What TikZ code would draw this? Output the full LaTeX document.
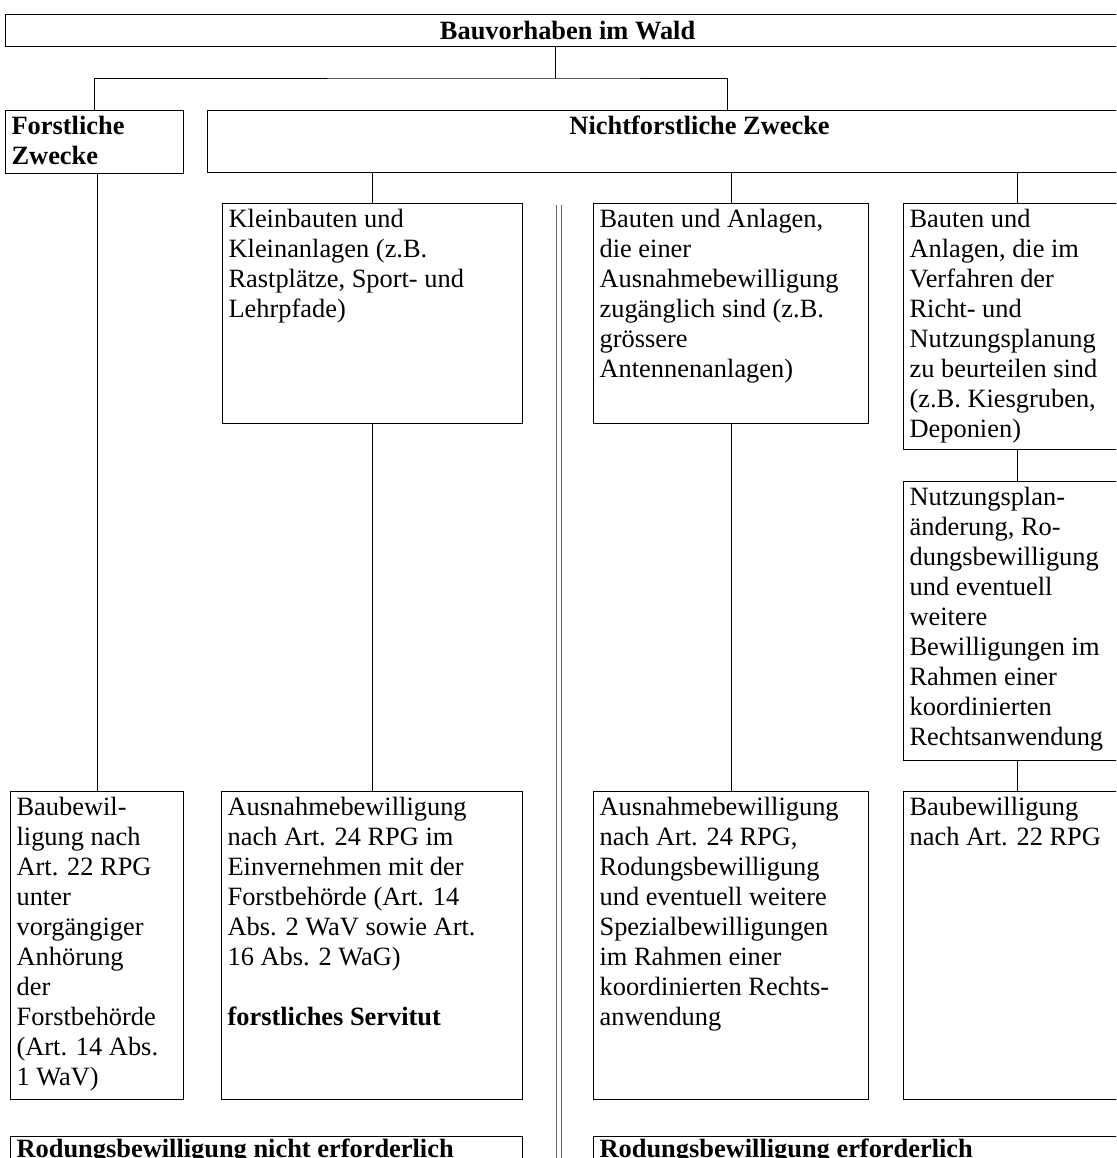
\documentclass[tikz,border=0pt]{standalone}
\usepackage{fontspec}
\setmainfont{Liberation Serif}
\usetikzlibrary{calc}

\newcommand{\schrift}{\fontsize{13.2pt}{15pt}\selectfont}
% Kasteninhalt: Breite, Hoehe, Zeilen (oben ausgerichtet)
\newcommand{\feld}[4][l]{\parbox[t][#3][t]{#2}{\if c#1\centering\fi\begin{tabular}[t]{@{}#1@{}}#4\end{tabular}}}

\begin{document}
\begin{tikzpicture}[x=0.5pt, y=-0.5pt,
  kasten/.style={draw, line width=0.6pt, anchor=north west, inner xsep=3pt, inner ysep=1.5pt, font=\schrift},
  fett/.style={font=\schrift\bfseries},
  linie/.style={line width=0.5pt}]

\useasboundingbox (0,0) rectangle (1116,1158);
\clip (0,0) rectangle (1116,1158);

\node[kasten, fett, inner sep=0pt, minimum width=562pt, minimum height=16pt] (titel) at (5,14) {Bauvorhaben im Wald};

\node[kasten, fett] (forst) at (5,110) {\feld{83pt}{28.5pt}{Forstliche\\Zwecke}};
\node[kasten, fett] (nichtforst) at (207,110) {\feld[c]{486pt}{28pt}{Nichtforstliche Zwecke}};

\node[kasten] (klein) at (222,203) {\feld{144pt}{107pt}{Kleinbauten und\\Kleinanlagen (z.B.\\Rastplätze, Sport- und\\Lehrpfade)}};
\node[kasten] (ausnahme) at (593,203) {\feld{131.5pt}{107pt}{Bauten und Anlagen,\\die einer\\Ausnahmebewilligung\\zugänglich sind (z.B.\\grössere\\Antennenanlagen)}};
\node[kasten] (richtplan) at (903,203) {\feld{107.5pt}{120pt}{Bauten und\\Anlagen, die im\\Verfahren der\\Richt- und\\Nutzungsplanung\\zu beurteilen sind\\(z.B. Kiesgruben,\\Deponien)}};
\node[kasten] (nutzung) at (903,481) {\feld{107.5pt}{136.5pt}{Nutzungsplan-\\änderung, Ro-\\dungsbewilligung\\und eventuell\\weitere\\Bewilligungen im\\Rahmen einer\\koordinierten\\Rechtsanwendung}};

\node[kasten] (baubewforst) at (10,791) {\feld{80.5pt}{151pt}{Baubewil-\\ligung nach\\Art. 22 RPG\\unter\\vorgängiger\\Anhörung\\der\\Forstbehörde\\(Art. 14 Abs.\\1 WaV)}};
\node[kasten] (servitut) at (221,791) {\feld{144.5pt}{151pt}{Ausnahmebewilligung\\nach Art. 24 RPG im\\Einvernehmen mit der\\Forstbehörde (Art. 14\\Abs. 2 WaV sowie Art.\\16 Abs. 2 WaG)\\[15pt]\textbf{forstliches Servitut}}};
\node[kasten] (rodung) at (593,791) {\feld{131.5pt}{151pt}{Ausnahmebewilligung\\nach Art. 24 RPG,\\Rodungsbewilligung\\und eventuell weitere\\Spezialbewilligungen\\im Rahmen einer\\koordinierten Rechts-\\anwendung}};
\node[kasten] (baubew) at (903,791) {\feld{107.5pt}{151pt}{Baubewilligung\\nach Art. 22 RPG}};

\node[kasten, fett, inner ysep=0pt] (ohnerodung) at (10,1136) {\feld{250pt}{20pt}{Rodungsbewilligung nicht erforderlich}};
\node[kasten, fett, inner ysep=0pt] (mitrodung) at (593,1136) {\feld{262.5pt}{20pt}{Rodungsbewilligung erforderlich}};

% Verzweigung oben
\coordinate (gabel) at (555,78);
\draw[linie] (gabel |- titel.south) -- (gabel);
\draw[linie] (forst.north) |- (gabel) -| ($(nichtforst.north west)+(520,0)$);

\foreach \k in {klein, ausnahme, richtplan}
  \draw[linie] (\k.north) -- (\k.north |- nichtforst.south);

\draw[linie] (baubewforst.north |- forst.south) -- (baubewforst.north);
\draw[linie] (klein.south) -- (klein.south |- servitut.north);
\draw[linie] (ausnahme.south) -- (rodung.north);
\draw[linie] (richtplan.south) -- (nutzung.north);
\draw[linie] (nutzung.south) -- (baubew.north);

% Trennlinie
\coordinate (trennO) at (558.5,205);
\coordinate (trennU) at (558.5,1170);
\draw[draw=black!60, line width=0.5pt, double=white, double distance=2pt] (trennO) -- (trennU);

\end{tikzpicture}
\end{document}
